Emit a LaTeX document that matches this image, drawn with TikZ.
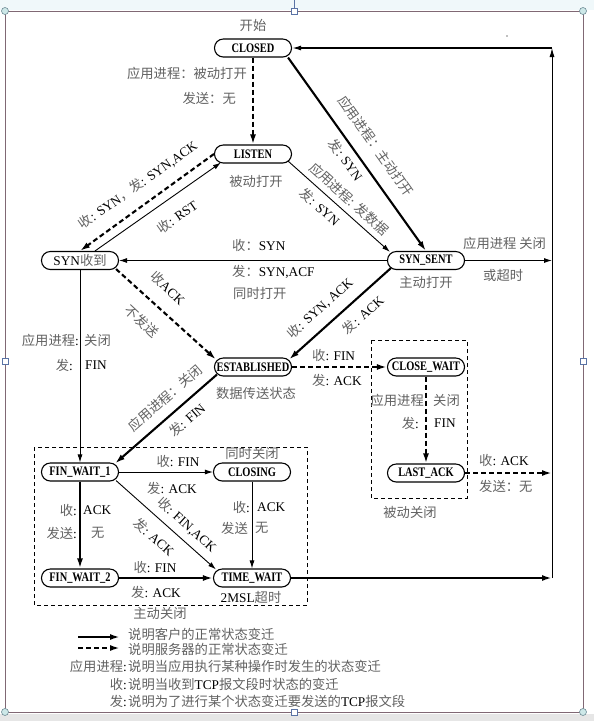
\documentclass[tikz,border=0pt]{standalone}
\usepackage{fontspec}
\setmainfont{Liberation Serif}
\newfontfamily\cjk{Noto Sans CJK SC}
\newfontfamily\nodefont{Liberation Serif}[FakeStretch=0.8]
\usetikzlibrary{arrows.meta}
\definecolor{zhgray}{gray}{0.38}
\definecolor{framec}{RGB}{128,104,116}
\definecolor{topbg}{RGB}{240,248,250}
\definecolor{botbg}{RGB}{230,230,230}
\definecolor{hcirc}{RGB}{205,232,232}
\definecolor{hedge}{RGB}{110,140,150}
\definecolor{hsq}{RGB}{90,115,165}
\newcommand\zh[1]{{\cjk\color{zhgray}#1}}
\begin{document}
\begin{tikzpicture}[x=1pt,y=-1pt,
  st/.style={draw, line width=1.1pt, rounded corners=8.8pt, minimum width=77pt,
    minimum height=18pt, inner sep=0pt, font=\nodefont\bfseries\fontsize{13}{13}\selectfont},
  lb/.style={inner sep=0pt, font=\fontsize{13.3}{14}\selectfont},
  thk/.style={line width=2.1pt, -{Latex[length=10pt,width=6pt]}},
  thn/.style={line width=0.9pt, -{Latex[length=8pt,width=5pt]}},
  dsh/.style={thk, dash pattern=on 5pt off 3pt},
  grpbox/.style={draw, line width=0.9pt, dash pattern=on 4pt off 3pt},
  hc/.style={draw=hedge, fill=hcirc, line width=0.6pt},
  hs/.style={draw=hsq, fill=white, line width=0.6pt}]
\useasboundingbox (0,0) rectangle (594,721);
% window frame
\fill[topbg] (0,0) rectangle (594,10);
\fill[botbg] (0,714) rectangle (594,721);
\draw[framec, line width=1pt] (5,11) rectangle (583,712);
\draw[hsq, line width=0.6pt] (294,0) -- (294,8);
\foreach \p in {(5,11),(583,11),(5,712),(583,712)} \draw[hc] \p circle (3.5);
\foreach \p in {(294,11),(5,361),(583,361),(294,712)} \draw[hs] \p ++(-3,-3) rectangle ++(6,6);
\fill[gray] (507,36) circle (0.8);

% states
\node[st] (closed) at (253,48) {CLOSED};
\node[st] (listen) at (253,154) {LISTEN};
\node[st, font=\fontsize{13.3}{14}\selectfont] (synr) at (80,260.5) {SYN\zh{收到}};
\node[st] (syns) at (426,260.5) {SYN\_SENT};
\node[st] (est) at (253,367) {ESTABLISHED};
\node[st] (cw) at (426,367) {CLOSE\_WAIT};
\node[st] (la) at (426,473) {LAST\_ACK};
\node[st] (fw1) at (80,472) {FIN\_WAIT\_1};
\node[st] (closing) at (252,472) {CLOSING};
\node[st] (fw2) at (80,578) {FIN\_WAIT\_2};
\node[st] (tw) at (252,578) {TIME\_WAIT};

% group boxes
\draw[grpbox] (371,340) rectangle (467,498);
\draw[grpbox] (34,447) rectangle (307,605);

% right return line
\coordinate (r1) at (552,260.5);
\coordinate (r2) at (552,473);
\coordinate (r3) at (552,578);
\coordinate (rt) at (552,48);

% transitions
\draw[dsh] (closed) -- (listen);
\draw[thk] ([xshift=-4pt]closed.south east) -- (syns.north);
\draw[thn] ([xshift=-4pt,yshift=2.5pt]listen.south east) -- ([xshift=3pt,yshift=-1pt]syns.north west);
\draw[dsh] (listen.west) -- (synr.north);
\draw[thn] ([xshift=15pt]synr.north) -- ([xshift=7pt,yshift=1pt]listen.south west);
\draw[thn] (syns.west) -- (synr.east);
\draw[dsh] ([xshift=-3pt,yshift=1pt]synr.south east) -- ([xshift=2pt,yshift=-2pt]est.north west);
\draw[thk] ([xshift=4pt,yshift=2pt]syns.south west) -- ([xshift=-3pt,yshift=-2pt]est.north east);
\draw[dsh] (est.east) -- (cw.west);
\draw[dsh] (cw.south) -- (la.north);
\draw[dsh] (la.east) -- (r2);
\draw[thn] (syns.east) -- (r1);
\draw[thn] (synr.south) -- (fw1.north);
\draw[thk] ([xshift=3pt,yshift=2pt]est.south west) -- ([xshift=-4pt,yshift=-1pt]fw1.north east);
\draw[thn] (fw1.east) -- (closing.west);
\draw[thn] ([xshift=-3pt,yshift=1pt]fw1.south east) -- ([xshift=3pt,yshift=-1pt]tw.north west);
\draw[thk] (fw1.south) -- (fw2.north);
\draw[thn] (closing.south) -- (tw.north);
\draw[thk] (fw2.east) -- (tw.west);
\draw[thk] (tw.east) -- (r3);
\draw[line width=1pt, -{Latex[length=9pt,width=5pt]}] (r3) -- (rt);
\draw[line width=1.4pt, -{Latex[length=9pt,width=5pt]}] (rt) -- (closed.east);

% state captions
\node[lb] (cap1) at (253,25) {\zh{开始}};
\node[lb] (cap2) at (256,181) {\zh{被动打开}};
\node[lb] (cap3) at (426,282) {\zh{主动打开}};
\node[lb] (cap4) at (256,393) {\zh{数据传送状态}};
\node[lb] (cap5) at (252,453) {\zh{同时关闭}};
\node[lb] (cap6) at (251,597) {2MSL\zh{超时}};
\node[lb] (cap7) at (410,512) {\zh{被动关闭}};
\node[lb] (cap8) at (160,613) {\zh{主动关闭}};

% transition labels
\node[lb, anchor=east] (l1) at (247,73) {\zh{应用进程：被动打开}};
\node[lb, anchor=east] (l2) at (236,98) {\zh{发送：无}};
\node[lb, rotate=-54.7] (l3) at (376,146) {\zh{应用进程：主动打开}};
\node[lb, rotate=-54.7] (l4) at (346,160) {\zh{发}: SYN};
\node[lb, rotate=-42] (l5) at (349,199) {\zh{应用进程: 发数据}};
\node[lb, rotate=-42] (l6) at (320,207) {\zh{发}: SYN};
\node[lb, rotate=35] (l7) at (138,185) {\zh{收}: SYN\zh{，发}: SYN,ACK};
\node[lb, rotate=35] (l8) at (177,217) {\zh{收}: RST};
\node[lb, anchor=west] (l9) at (232,245) {\zh{收：}SYN};
\node[lb, anchor=west] (l10) at (232,272) {\zh{发：}SYN,ACF};
\node[lb, anchor=west] (l11) at (233,293) {\zh{同时打开}};
\node[lb, rotate=-43] (l12) at (168,288) {\zh{收}ACK};
\node[lb, rotate=-43] (l13) at (142,321) {\zh{不发送}};
\node[lb, rotate=42] (l14) at (320,308) {\zh{收}: SYN, ACK};
\node[lb, rotate=42] (l15) at (363,315) {\zh{发}: ACK};
\node[lb, anchor=west] (l16) at (463,243) {\zh{应用进程 关闭}};
\node[lb, anchor=west] (l17) at (483,275) {\zh{或超时}};
\node[lb, anchor=west] (l18) at (312,355) {\zh{收}: FIN};
\node[lb, anchor=west] (l19) at (312,380) {\zh{发}: ACK};
\node[lb, anchor=east] (l20) at (424,400) {\zh{应用进程}};
\node[lb, anchor=west] (l21) at (433,400) {\zh{关闭}};
\node[lb, anchor=east] (l22) at (419,423) {\zh{发}:};
\node[lb, anchor=west] (l23) at (434,423) {FIN};
\node[lb, anchor=west] (l24) at (479,460) {\zh{收}: ACK};
\node[lb, anchor=west] (l25) at (479,486) {\zh{发送：无}};
\node[lb, anchor=east] (l26) at (79,340) {\zh{应用进程}:};
\node[lb, anchor=west] (l27) at (84,340) {\zh{关闭}};
\node[lb, anchor=east] (l28) at (73,365) {\zh{发}:};
\node[lb, anchor=west] (l29) at (85,365) {FIN};
\node[lb, rotate=41] (l30) at (165,398) {\zh{应用进程：关闭}};
\node[lb, rotate=41] (l31) at (187,420) {\zh{发}: FIN};
\node[lb] (l32) at (178,461) {\zh{收}: FIN};
\node[lb] (l33) at (172,488) {\zh{发}: ACK};
\node[lb, rotate=-42] (l34) at (187,525) {\zh{收}: FIN,ACK};
\node[lb, rotate=-42] (l35) at (154,537) {\zh{发}: ACK};
\node[lb, anchor=east] (l36) at (77,510) {\zh{收}:};
\node[lb, anchor=west] (l37) at (83,510) {ACK};
\node[lb, anchor=east] (l38) at (77,533) {\zh{发送}:};
\node[lb, anchor=west] (l39) at (91,533) {\zh{无}};
\node[lb, anchor=east] (l40) at (250,507) {\zh{收}:};
\node[lb, anchor=west] (l41) at (257,507) {ACK};
\node[lb, anchor=east] (l42) at (248,528) {\zh{发送}};
\node[lb, anchor=west] (l43) at (255,528) {\zh{无}};
\node[lb] (l44) at (155,567) {\zh{收}: FIN};
\node[lb] (l45) at (156,592) {\zh{发}: ACK};

% legend
\coordinate (g1a) at (78,637);
\coordinate (g1b) at (120,637);
\coordinate (g2a) at (78,648);
\coordinate (g2b) at (120,648);
\draw[thk] (g1a) -- (g1b);
\draw[dsh] (g2a) -- (g2b);
\node[lb, anchor=west] (k1) at (128,634) {\zh{说明客户的正常状态变迁}};
\node[lb, anchor=west] (k2) at (128,649) {\zh{说明服务器的正常状态变迁}};
\node[lb, anchor=east] (k3a) at (127,666) {\zh{应用进程}:};
\node[lb, anchor=west] (k3) at (128,666) {\zh{说明当应用执行某种操作时发生的状态变迁}};
\node[lb, anchor=east] (k4a) at (127,684) {\zh{收}:};
\node[lb, anchor=west] (k4) at (128,684) {\zh{说明当收到}TCP\zh{报文段时状态的变迁}};
\node[lb, anchor=east] (k5a) at (127,701) {\zh{发}:};
\node[lb, anchor=west] (k5) at (128,701) {\zh{说明为了进行某个状态变迁要发送的}TCP\zh{报文段}};
\end{tikzpicture}
\end{document}
